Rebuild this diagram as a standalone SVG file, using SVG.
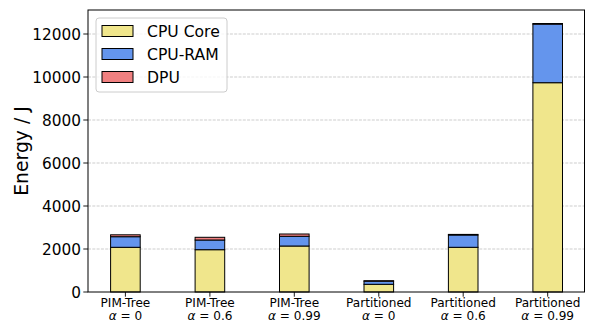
<svg xmlns="http://www.w3.org/2000/svg" width="589" height="322" viewBox="0 0 589 322">
<style>
text{font-family:"DejaVu Sans","Liberation Sans",sans-serif;fill:#000}
.yt{font-size:15.3px;text-anchor:end}
.xt{font-size:12.1px;text-anchor:middle}
.grid{stroke:#b0b0b0;stroke-opacity:0.8;stroke-width:0.8;stroke-dasharray:3,1.3}
.core{fill:#f0e68c;stroke:#000;stroke-width:1}
.ram{fill:#6495ed;stroke:#000;stroke-width:1}
.dpu{fill:#f08080;stroke:#000;stroke-width:1}
.tick{stroke:#000;stroke-width:0.9}
.lg{font-size:15.6px}
</style>
<rect width="589" height="322" fill="#fff"/>
<g id="grid">
<line class="grid" x1="88" y1="249" x2="585" y2="249"/>
<line class="grid" x1="88" y1="206" x2="585" y2="206"/>
<line class="grid" x1="88" y1="163" x2="585" y2="163"/>
<line class="grid" x1="88" y1="120" x2="585" y2="120"/>
<line class="grid" x1="88" y1="77" x2="585" y2="77"/>
<line class="grid" x1="88" y1="34" x2="585" y2="34"/>
</g>
<g id="bar1">
<rect class="core" x="110.6" y="247.3" width="29.6" height="44.7"/>
<rect class="ram" x="110.6" y="236.7" width="29.6" height="10.6"/>
<rect class="dpu" x="110.6" y="234.8" width="29.6" height="1.9"/>
</g>
<g id="bar2">
<rect class="core" x="195.1" y="249.7" width="29.6" height="42.3"/>
<rect class="ram" x="195.1" y="240" width="29.6" height="9.7"/>
<rect class="dpu" x="195.1" y="237.3" width="29.6" height="2.7"/>
</g>
<g id="bar3">
<rect class="core" x="279.5" y="246" width="29.6" height="46"/>
<rect class="ram" x="279.5" y="236.3" width="29.6" height="9.7"/>
<rect class="dpu" x="279.5" y="234" width="29.6" height="2.3"/>
</g>
<g id="bar4">
<rect class="core" x="364" y="284.3" width="29.6" height="7.7"/>
<rect class="ram" x="364" y="281.2" width="29.6" height="3.1"/>
<rect class="dpu" x="364" y="280.7" width="29.6" height="0.5"/>
</g>
<g id="bar5">
<rect class="core" x="448.4" y="247.3" width="29.6" height="44.7"/>
<rect class="ram" x="448.4" y="235" width="29.6" height="12.3"/>
<rect class="dpu" x="448.4" y="234.4" width="29.6" height="0.6"/>
</g>
<g id="bar6">
<rect class="core" x="532.9" y="82.7" width="29.6" height="209.3"/>
<rect class="ram" x="532.9" y="24.1" width="29.6" height="58.6"/>
<rect class="dpu" x="532.9" y="23.5" width="29.6" height="0.6"/>
</g>
<g id="axes" fill="none" stroke="#000" stroke-width="1">
<rect x="88" y="10" width="496.5" height="282"/>
</g>
<g id="yticks">
<line class="tick" x1="83.3" y1="292" x2="88" y2="292"/>
<line class="tick" x1="83.3" y1="249" x2="88" y2="249"/>
<line class="tick" x1="83.3" y1="206" x2="88" y2="206"/>
<line class="tick" x1="83.3" y1="163" x2="88" y2="163"/>
<line class="tick" x1="83.3" y1="120" x2="88" y2="120"/>
<line class="tick" x1="83.3" y1="77" x2="88" y2="77"/>
<line class="tick" x1="83.3" y1="34" x2="88" y2="34"/>
<text class="yt" x="81" y="297.5">0</text>
<text class="yt" x="81" y="254.5">2000</text>
<text class="yt" x="81" y="211.5">4000</text>
<text class="yt" x="81" y="168.5">6000</text>
<text class="yt" x="81" y="125.5">8000</text>
<text class="yt" x="81" y="82.5">10000</text>
<text class="yt" x="81" y="39.5">12000</text>
</g>
<g id="xticks">
<line class="tick" x1="125.4" y1="292" x2="125.4" y2="296.7"/>
<line class="tick" x1="209.9" y1="292" x2="209.9" y2="296.7"/>
<line class="tick" x1="294.3" y1="292" x2="294.3" y2="296.7"/>
<line class="tick" x1="378.8" y1="292" x2="378.8" y2="296.7"/>
<line class="tick" x1="463.2" y1="292" x2="463.2" y2="296.7"/>
<line class="tick" x1="547.7" y1="292" x2="547.7" y2="296.7"/>
<text class="xt" x="125.4" y="306.8">PIM-Tree</text>
<text class="xt" x="125.4" y="319.8"><tspan font-style="italic">α</tspan> = 0</text>
<text class="xt" x="209.9" y="306.8">PIM-Tree</text>
<text class="xt" x="209.9" y="319.8"><tspan font-style="italic">α</tspan> = 0.6</text>
<text class="xt" x="294.3" y="306.8">PIM-Tree</text>
<text class="xt" x="294.3" y="319.8"><tspan font-style="italic">α</tspan> = 0.99</text>
<text class="xt" x="378.8" y="306.8">Partitioned</text>
<text class="xt" x="378.8" y="319.8"><tspan font-style="italic">α</tspan> = 0</text>
<text class="xt" x="463.2" y="306.8">Partitioned</text>
<text class="xt" x="463.2" y="319.8"><tspan font-style="italic">α</tspan> = 0.6</text>
<text class="xt" x="547.7" y="306.8">Partitioned</text>
<text class="xt" x="547.7" y="319.8"><tspan font-style="italic">α</tspan> = 0.99</text>
</g>
<text id="ylabel" x="0" y="0" font-size="18.8px" text-anchor="middle" transform="translate(27.5,151) rotate(-90)">Energy / J</text>
<g id="legend">
<rect x="96" y="18" width="131" height="74" rx="3" fill="#fff" fill-opacity="0.8" stroke="#cccccc" stroke-width="1"/>
<rect class="core" x="102" y="25.5" width="31" height="11"/>
<rect class="ram" x="102" y="48.5" width="31" height="11"/>
<rect class="dpu" x="102" y="71.5" width="31" height="11"/>
<text class="lg" x="147" y="36.5">CPU Core</text>
<text class="lg" x="147" y="59.5">CPU-RAM</text>
<text class="lg" x="147" y="82.5">DPU</text>
</g>
</svg>
